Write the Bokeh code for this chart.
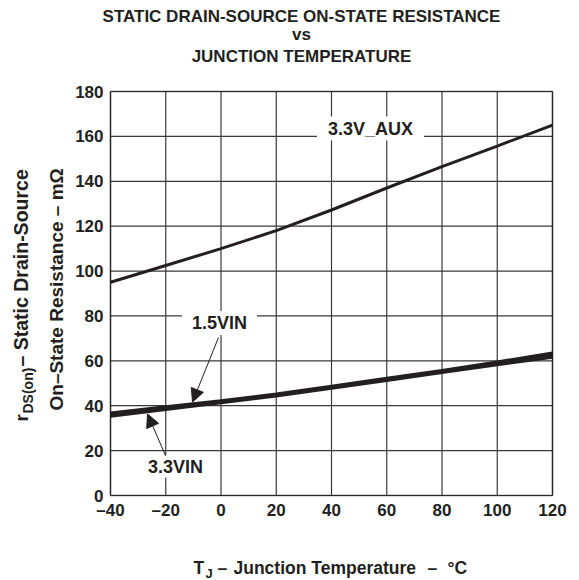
import math

from bokeh.plotting import figure
from bokeh.models import (Range1d, Label, Arrow, NormalHead, FixedTicker,
                          LinearAxis, BoxAnnotation)
from bokeh.embed import file_html
from bokeh.resources import INLINE

# Junction temperature (°C) and on-state resistance (mΩ) for each supply switch
temps = [-40, -20, 0, 20, 40, 60, 80, 100, 120]
r_aux = [95, 102.5, 110, 118, 127.2, 137, 146.5, 155.7, 165]
r_15vin = [36.5, 39.3, 42, 45, 48.5, 52, 55.5, 59.3, 63.3]
r_33vin = [35.5, 38.5, 41.5, 44.5, 48, 51.5, 55, 58.5, 61.8]

x_ticks = [-40, -20, 0, 20, 40, 60, 80, 100, 120]
x_tick_labels = ["–40", "–20", "0", "20", "40", "60", "80", "100", "120"]
y_ticks = [0, 20, 40, 60, 80, 100, 120, 140, 160, 180]

title_lines = ["STATIC DRAIN-SOURCE ON-STATE RESISTANCE", "vs", "JUNCTION TEMPERATURE"]

# Canvas size and where the chart box sits inside it (pixels)
W, H = 579, 580
BL, BR, BT, BB = 110, 27, 91, 85
X0, X1 = x_ticks[0], x_ticks[-1]
Y0, Y1 = y_ticks[0], y_ticks[-1]
FONT = "Liberation Sans"
INK = "#231f20"

# The drawing frame covers the whole canvas so that titles and notes
# around the chart box are not clipped; ranges are widened to match.
KX = (X1 - X0) / (W - BL - BR)
KY = (Y1 - Y0) / (H - BT - BB)
X_LO, X_HI = X0 - BL * KX, X1 + BR * KX
Y_LO, Y_HI = Y0 - BB * KY, Y1 + BT * KY


def fx(px):
    """Canvas pixel column -> data x."""
    return X_LO + px * KX


def fy(py):
    """Canvas pixel row (from top) -> data y."""
    return Y_HI - py * KY


p = figure(width=W, height=H, output_backend="svg", toolbar_location=None,
           x_range=Range1d(X_LO, X_HI), y_range=Range1d(Y_LO, Y_HI),
           x_axis_location=None, y_axis_location=None,
           min_border=0)
p.min_border_left = p.min_border_right = p.min_border_top = p.min_border_bottom = 0
p.background_fill_color = "white"
p.border_fill_color = "white"
p.outline_line_color = None
p.grid.visible = False


def style_axis(ax):
    ax.axis_line_color = None
    ax.major_tick_line_color = None
    ax.minor_tick_line_color = None
    ax.major_tick_out = 0
    ax.major_tick_in = 0
    ax.minor_tick_out = 0
    ax.major_label_text_font = FONT
    ax.major_label_text_font_style = "bold"
    ax.major_label_text_font_size = "17px"
    ax.major_label_text_color = INK


xaxis = LinearAxis(fixed_location=Y0, ticker=FixedTicker(ticks=x_ticks))
style_axis(xaxis)
xaxis.major_label_overrides = {t: s for t, s in zip(x_ticks, x_tick_labels)}
xaxis.major_label_standoff = 5
p.add_layout(xaxis, "below")

yaxis = LinearAxis(fixed_location=X0, ticker=FixedTicker(ticks=y_ticks))
style_axis(yaxis)
yaxis.major_label_standoff = 7
p.add_layout(yaxis, "left")

# Grid lines inside the chart box
p.segment(x0=x_ticks, y0=[Y0] * len(x_ticks), x1=x_ticks, y1=[Y1] * len(x_ticks),
          line_color="#3a3a3a", line_width=1.2)
p.segment(x0=[X0] * len(y_ticks), y0=y_ticks, x1=[X1] * len(y_ticks), y1=y_ticks,
          line_color="#3a3a3a", line_width=1.2)

# Curves
p.line(temps, r_aux, line_color=INK, line_width=3)
p.line(temps, r_15vin, line_color=INK, line_width=4)
p.line(temps, r_33vin, line_color=INK, line_width=4)

# Chart box border
p.add_layout(BoxAnnotation(left=X0, right=X1, bottom=Y0, top=Y1,
                           fill_alpha=0, line_color="black", line_width=2))


def label(px, py, text, size=18, align="center", angle=0.0, bg=None, pad=0):
    """Bold text whose baseline passes through canvas pixel (px, py)."""
    # the drawn baseline lands about a third of the font size low; pull it back
    shift = size / 3.0
    if angle:
        px -= shift
    else:
        py -= shift
    kw = {}
    if bg is not None:
        kw = dict(background_fill_color=bg, padding=pad)
    p.add_layout(Label(x=fx(px), y=fy(py), text=text, text_font=FONT,
                       text_font_style="bold", text_font_size=f"{size}px",
                       text_color=INK, text_align=align,
                       text_baseline="alphabetic", angle=angle, **kw))


# Curve labels and pointers
label(370, 134, "3.3V_AUX", bg="white", pad=(11, 2))
label(219, 328.5, "1.5VIN", bg="white", pad=(10, 2))
label(175, 472, "3.3VIN", bg="white", pad=(1, 1))

head = dict(size=13, fill_color=INK, line_color=INK, line_width=1)
p.add_layout(Arrow(end=NormalHead(**head), x_start=fx(218), y_start=fy(337),
                   x_end=fx(192), y_end=fy(401.5), line_color=INK, line_width=1))
p.add_layout(Arrow(end=NormalHead(**head), x_start=fx(165), y_start=fy(455),
                   x_end=fx(147), y_end=fy(413.5), line_color=INK, line_width=1))

# Title
label(301, 22, title_lines[0], size=17)
label(301, 40, title_lines[1], size=17)
label(301, 62, title_lines[2], size=17)

# X axis title
label(193, 573, "T", size=17.5, align="left")
label(205, 577, "J", size=13, align="left")
label(217, 573, "–", size=17.5, align="left")
label(233, 573, "Junction Temperature", size=17.5, align="left")
label(427, 573, "–", size=17.5, align="left")
label(447, 573, "°C", size=17.5, align="left")

# Y axis title (rotated)
up = math.pi / 2
label(27, 421, "r", size=19, align="left", angle=up)
label(32, 413, "DS(on)", size=14, align="left", angle=up)
label(27, 366, "– Static Drain-Source", size=19.5, align="left", angle=up)
label(62, 410, "On–State Resistance  – mΩ", size=19, align="left", angle=up)

open("out.html", "w").write(file_html(p, INLINE))
